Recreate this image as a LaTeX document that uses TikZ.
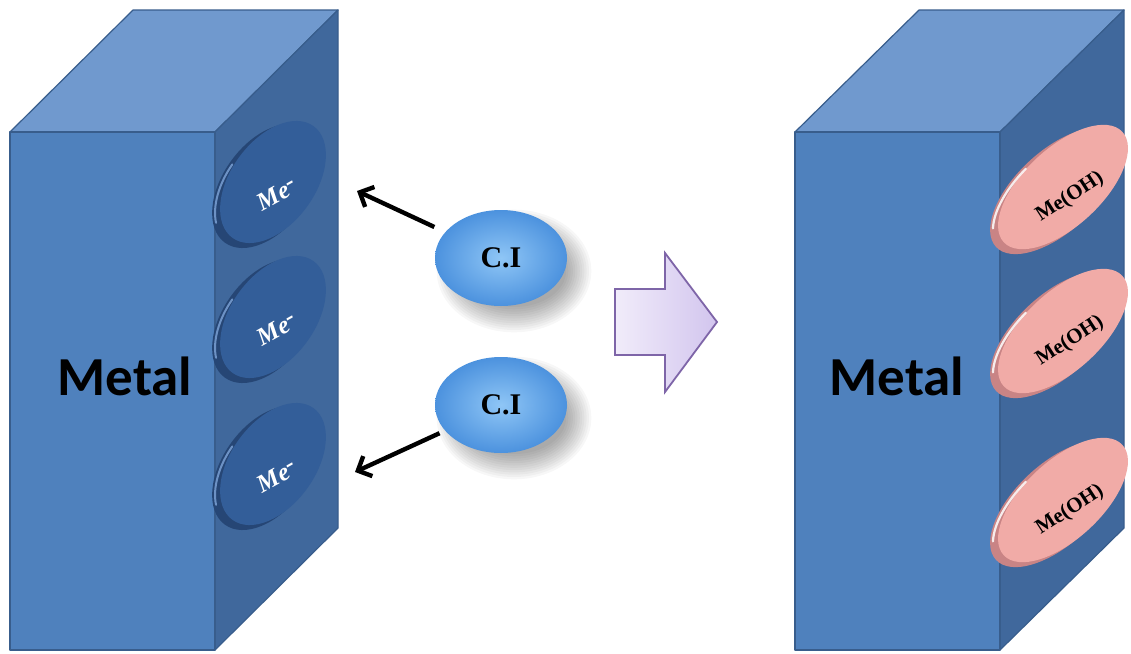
\documentclass[tikz,border=0pt]{standalone}
\usepackage{fontspec}
\setmainfont{Liberation Serif}
\newfontfamily\carlito{Carlito}
\usetikzlibrary{shapes.geometric,arrows.meta}

\definecolor{frontblue}{HTML}{4F81BD}
\definecolor{topblue}{HTML}{7099CE}
\definecolor{sideblue}{HTML}{40689C}
\definecolor{edgeblue}{HTML}{385D8C}
\definecolor{discface}{HTML}{335E99}
\definecolor{discrim}{HTML}{264675}
\definecolor{dischl}{HTML}{7FA6DA}
\definecolor{pinkface}{HTML}{F1ABA7}
\definecolor{pinkrim}{HTML}{C98485}
\definecolor{ciin}{HTML}{8FC6F6}
\definecolor{ciout}{HTML}{4C92DE}
\definecolor{arrowL}{HTML}{F1ECFA}
\definecolor{arrowR}{HTML}{D2C5EE}
\definecolor{arrowedge}{HTML}{7E65A8}

\tikzset{
  face/.style={draw=edgeblue, line width=1.2pt, line join=round},
  metal/.style={font=\carlito\bfseries\fontsize{55}{60}\selectfont, anchor=base, text=black},
  metext/.style={font=\bfseries\itshape\fontsize{25}{27}\selectfont, text=white, inner sep=0pt},
  ohtext/.style={font=\bfseries\fontsize{21}{23}\selectfont, text=black, inner sep=0pt},
  cinode/.style={ellipse, minimum width=132pt, minimum height=96pt, inner sep=0pt,
    inner color=ciin, outer color=ciout, font=\bfseries\fontsize{30}{32}\selectfont},
  conn/.style={line width=4.4pt, -{Straight Barb[length=11pt,width=22pt,line width=4.4pt]}},
  bigarrow/.style={draw=arrowedge, line width=1.8pt, line join=miter, left color=arrowL, right color=arrowR},
  % surface disc on the metal, blue (oxidisable site)
  medisc/.pic={
    \fill[discrim, shift={(-5,3)}, rotate=54] (0,0) ellipse [x radius=70, y radius=43];
    \fill[discface, shift={(2,-1)}, rotate=54] (0,0) ellipse [x radius=69, y radius=42];
    \draw[dischl, line width=2pt, line cap=round, opacity=0.8, shift={(-5,3)}, rotate=54]
      ({67*cos(208)},{40*sin(208)}) arc [start angle=208, end angle=268, x radius=67, y radius=40];
  },
  % surface disc on the metal, pink (hydroxide film)
  ohdisc/.pic={
    \fill[pinkrim, shift={(-5,3)}, rotate=43] (0,0) ellipse [x radius=82, y radius=40];
    \fill[pinkface, shift={(2,-1)}, rotate=43] (0,0) ellipse [x radius=81, y radius=39];
    \draw[white, line width=2.2pt, line cap=round, opacity=0.85, shift={(-5,3)}, rotate=43]
      ({79*cos(205)},{37*sin(205)}) arc [start angle=205, end angle=265, x radius=79, y radius=37];
  }
}

\begin{document}
\begin{tikzpicture}[x=1pt,y=-1pt]
\useasboundingbox (0,0) rectangle (1131,653);
\fill[white] (0,0) rectangle (1131,653);

% ---- left metal block ----
\filldraw[face, fill=topblue] (10,132) -- (133,10) -- (338,10) -- (215,132) -- cycle;
\filldraw[face, fill=sideblue] (215,132) -- (338,10) -- (338,528) -- (215,650) -- cycle;
\filldraw[face, fill=frontblue] (10,132) rectangle (215,650);
\node[metal] (metalL) at (125,395) {Metal};

\pic at (271,183) {medisc};
\pic at (271,318) {medisc};
\pic at (271,465) {medisc};
\node[metext, rotate=29] (me1) at (277,194) {Me\raisebox{.4ex}{-}};
\node[metext, rotate=29] (me2) at (277,329) {Me\raisebox{.4ex}{-}};
\node[metext, rotate=29] (me3) at (277,476) {Me\raisebox{.4ex}{-}};

% ---- corrosion inhibitor molecules with soft shadows ----
\foreach \cy in {258,405}{
  \foreach \i in {0,...,11}{
    \fill[black, opacity=0.032] (514,\cy+13) ellipse [x radius=52+2.3*\i, y radius=36+2.3*\i];
  }
}
\node[cinode] (ci1) at (501,258) {C.I};
\node[cinode] (ci2) at (501,405) {C.I};

\coordinate (t1) at (357,191);
\coordinate (t2) at (355,472);
\draw[conn, shorten <=12pt] (ci1) -- (t1);
\draw[conn, shorten <=6pt] (ci2) -- (t2);

% ---- process arrow ----
\draw[bigarrow] (615,289) -- (665,289) -- (665,253) -- (717,322) -- (665,392)
  -- (665,355) -- (615,355) -- cycle;

% ---- right metal block ----
\filldraw[face, fill=topblue] (795,132) -- (919,10) -- (1124,10) -- (1000,132) -- cycle;
\filldraw[face, fill=sideblue] (1000,132) -- (1124,10) -- (1124,528) -- (1000,650) -- cycle;
\filldraw[face, fill=frontblue] (795,132) rectangle (1000,650);
\node[metal] (metalR) at (897,395) {Metal};

\pic at (1061,188) {ohdisc};
\pic at (1061,332) {ohdisc};
\pic at (1061,501) {ohdisc};
\node[ohtext, rotate=33] (oh1) at (1070,197) {Me(OH)};
\node[ohtext, rotate=33] (oh2) at (1070,341) {Me(OH)};
\node[ohtext, rotate=33] (oh3) at (1070,510) {Me(OH)};
\end{tikzpicture}
\end{document}
